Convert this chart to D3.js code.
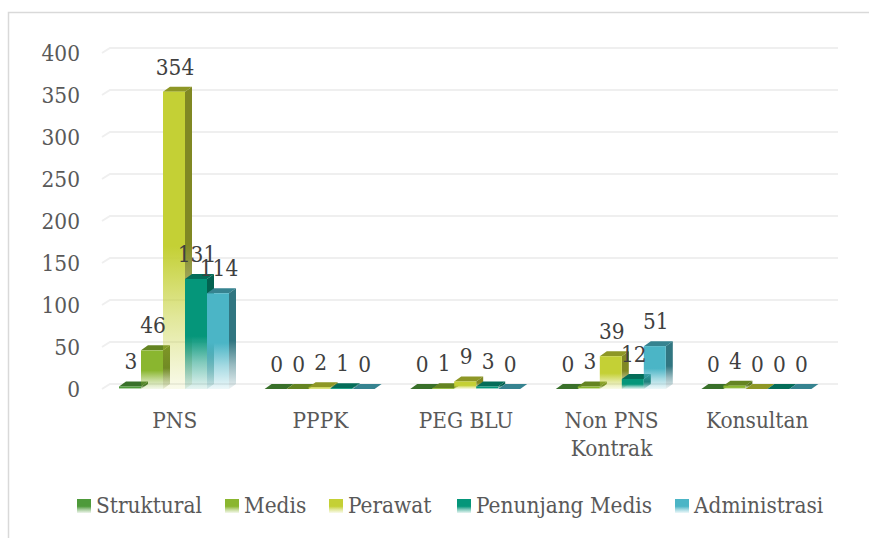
<!DOCTYPE html>
<html>
<head>
<meta charset="utf-8">
<script src="https://cdn.jsdelivr.net/npm/d3@7"></script>
<style>
  html, body { margin: 0; padding: 0; background: #fff; }
  text { font-family: "DejaVu Serif Condensed", "DejaVu Serif", serif; fill: #595959; }
</style>
</head>
<body>
<div id="chart"></div>
<script>
const categories = ["PNS", "PPPK", "PEG BLU", "Non PNS Kontrak", "Konsultan"];
const seriesNames = ["Struktural", "Medis", "Perawat", "Penunjang Medis", "Administrasi"];
const struktural = [3, 0, 0, 0, 0];
const medis = [46, 0, 1, 3, 4];
const perawat = [354, 2, 9, 39, 0];
const penunjang = [131, 1, 3, 12, 0];
const administrasi = [114, 0, 0, 51, 0];
const yTicks = [0, 50, 100, 150, 200, 250, 300, 350, 400];
const seriesColors = ["#4e9a3a", "#8ab62f", "#c4d035", "#05967a", "#4bb5c6"];

const seriesValues = [struktural, medis, perawat, penunjang, administrasi];
const width = 869, height = 538;
const depthX = 7, depthY = 5;
const fontSize = "22.4px";

const svg = d3.select("#chart").append("svg")
  .attr("width", width)
  .attr("height", height)
  .style("display", "block");

// chart frame, only top and left edges show in the source
svg.append("path")
  .attr("d", `M8.5,${height} V12.5 H${width}`)
  .attr("fill", "none")
  .attr("stroke", "#d9d9d9")
  .attr("stroke-width", 1.5);

const x0 = d3.scaleBand().domain(categories).range([102, 830]);
const x1 = d3.scaleBand().domain(seriesNames).range([17, 127]);
const y = d3.scaleLinear().domain([0, 400]).range([389, 53]);

// gridlines run along the floor edge, then back along the wall
svg.append("g").selectAll("path")
  .data(yTicks)
  .join("path")
  .attr("d", (d) => `M102,${y(d)} L110,${y(d) - 5} H838`)
  .attr("fill", "none")
  .attr("stroke", "#efefef")
  .attr("stroke-width", 2);

svg.append("g").selectAll("text")
  .data(yTicks)
  .join("text")
  .attr("x", 80)
  .attr("y", (d) => y(d))
  .attr("dy", "0.34em")
  .attr("text-anchor", "end")
  .style("font-size", fontSize)
  .text((d) => d);

// fading fills
const defs = svg.append("defs");
function shade(c, k) { return d3.rgb(c).darker(k).formatHex(); }
function addFade(id, color, stops) {
  const g = defs.append("linearGradient").attr("id", id)
    .attr("x1", 0).attr("y1", 0).attr("x2", 0).attr("y2", 1);
  stops.forEach(([o, op]) => {
    g.append("stop").attr("offset", o).attr("stop-color", color).attr("stop-opacity", op);
  });
}
const fade = [[0, 1], [0.52, 1], [0.76, 0.5], [1, 0.1]];
seriesColors.forEach((c, i) => {
  addFade(`front${i}`, c, fade);
  addFade(`side${i}`, shade(c, 1.2), fade);
});

const barsG = svg.append("g");
const bars = [];
categories.forEach((cat, ci) => {
  seriesNames.forEach((name, si) => {
    bars.push({ cat, name, si, value: seriesValues[si][ci] });
  });
});

const barG = barsG.selectAll("g")
  .data(bars)
  .join("g")
  .attr("transform", (d) => `translate(${x0(d.cat) + x1(d.name)},0)`);

barG.append("path") // top cap
  .attr("d", (d) => {
    const w = x1.bandwidth(), t = y(d.value);
    return `M0,${t} L${depthX},${t - depthY} H${w + depthX} L${w},${t} Z`;
  })
  .attr("fill", (d) => shade(seriesColors[d.si], 0.9));

barG.append("path") // side face
  .attr("d", (d) => {
    const w = x1.bandwidth(), t = y(d.value);
    return `M${w},${t} L${w + depthX},${t - depthY} V${y(0) - depthY} L${w},${y(0)} Z`;
  })
  .attr("fill", (d) => `url(#side${d.si})`);

barG.append("rect") // front face
  .attr("x", 0)
  .attr("y", (d) => y(d.value))
  .attr("width", x1.bandwidth())
  .attr("height", (d) => y(0) - y(d.value))
  .attr("fill", (d) => `url(#front${d.si})`);

// data labels go last, they sit over the bars
svg.append("g").selectAll("text")
  .data(bars)
  .join("text")
  .attr("x", (d) => x0(d.cat) + x1(d.name) + x1.bandwidth() / 2 + 1)
  .attr("y", (d) => y(d.value) - 17)
  .attr("text-anchor", "middle")
  .style("font-size", fontSize)
  .style("fill", "#404040")
  .text((d) => d.value);

// category labels
const catLabels = svg.append("g").selectAll("text")
  .data(categories)
  .join("text")
  .attr("x", (d) => x0(d) + x0.bandwidth() / 2)
  .attr("y", 428)
  .attr("text-anchor", "middle")
  .style("font-size", fontSize);
catLabels.each(function (d) {
  const parts = d === "Non PNS Kontrak" ? ["Non PNS", "Kontrak"] : [d];
  d3.select(this).selectAll("tspan")
    .data(parts)
    .join("tspan")
    .attr("x", x0(d) + x0.bandwidth() / 2)
    .attr("dy", (p, i) => (i ? 28 : 0))
    .text((p) => p);
});

// legend
const legendX = [77, 225, 329, 457, 675];
const legend = svg.append("g").selectAll("g")
  .data(seriesNames)
  .join("g")
  .attr("transform", (d, i) => `translate(${legendX[i]},499)`);
legend.append("rect")
  .attr("width", 14)
  .attr("height", 14)
  .attr("fill", (d, i) => `url(#front${i})`);
legend.append("text")
  .attr("x", 19)
  .attr("y", 14)
  .style("font-size", fontSize)
  .text((d) => d);
</script>
</body>
</html>
